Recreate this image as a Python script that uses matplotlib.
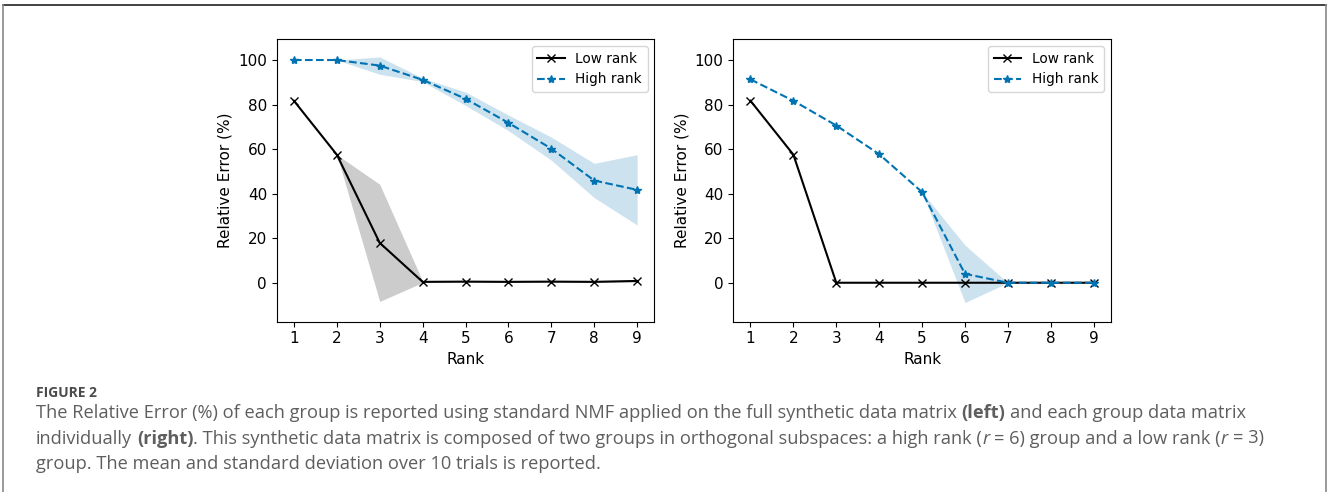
import matplotlib
matplotlib.use("Agg")
import matplotlib.pyplot as plt
from matplotlib.lines import Line2D

ranks = [1, 2, 3, 4, 5, 6, 7, 8, 9]

# NMF on the full synthetic matrix
full_low_mean = [81.7, 57.5, 17.9, 0.4, 0.5, 0.4, 0.5, 0.4, 0.8]
full_low_std = [0.0, 0.0, 26.3, 0.3, 0.3, 0.3, 0.3, 0.3, 0.4]
full_high_mean = [100.0, 100.0, 97.5, 91.1, 82.6, 71.8, 60.2, 45.9, 41.7]
full_high_std = [0.0, 0.0, 3.9, 0.8, 3.0, 3.5, 5.2, 7.7, 15.8]

# NMF on each group matrix separately
group_low_mean = [81.7, 57.5, 0.0, 0.0, 0.0, 0.0, 0.0, 0.0, 0.0]
group_low_std = [0.0, 0.0, 0.0, 0.0, 0.0, 0.0, 0.0, 0.0, 0.0]
group_high_mean = [91.3, 81.7, 70.6, 57.7, 40.7, 4.0, 0.0, 0.0, 0.0]
group_high_std = [0.0, 0.0, 0.0, 0.0, 0.0, 12.9, 0.0, 0.0, 0.0]

BLUE = "#0173B2"
CAPTION_FONT = "Open Sans"
W, H = 1328, 492

fig = plt.figure(figsize=(W / 100, H / 100), dpi=100)
ax_l = fig.add_axes([0.2084, 0.3461, 0.2843, 0.5740])
ax_r = fig.add_axes([0.5522, 0.3461, 0.2843, 0.5740])


def draw_panel(ax, low_m, low_s, high_m, high_s):
    ax.fill_between(ranks, [m - s for m, s in zip(low_m, low_s)],
                    [m + s for m, s in zip(low_m, low_s)],
                    color="black", alpha=0.2, linewidth=0)
    ax.fill_between(ranks, [m - s for m, s in zip(high_m, high_s)],
                    [m + s for m, s in zip(high_m, high_s)],
                    color=BLUE, alpha=0.2, linewidth=0)
    ax.plot(ranks, low_m, color="black", marker="x", markersize=6,
            linewidth=1.5, label="Low rank")
    ax.plot(ranks, high_m, color=BLUE, marker="*", markersize=6,
            linestyle="--", linewidth=1.5, label="High rank")
    ax.set_xticks(ranks)
    ax.set_yticks([0, 20, 40, 60, 80, 100])
    ax.set_xlim(0.6, 9.4)
    ax.set_ylim(-17.5, 109.3)
    ax.tick_params(labelsize=11)
    ax.set_xlabel("Rank", fontsize=11)
    ax.set_ylabel("Relative Error (%)", fontsize=11)
    ax.legend(loc="upper right", fontsize=9.8)


draw_panel(ax_l, full_low_mean, full_low_std, full_high_mean, full_high_std)
draw_panel(ax_r, group_low_mean, group_low_std, group_high_mean, group_high_std)

# caption, assembled from runs of regular / bold / italic text
CAP = "#5e5e5e"
CAP_SIZE = 13.15
X0 = 36
renderer = fig.canvas.get_renderer()

fig.text(X0 / W, 1 - 393 / H, "FIGURE 2", family=CAPTION_FONT,
         weight="bold", fontsize=10, color="#4a4a4a", va="center", ha="left")

caption_lines = [
    [("The Relative Error (%) of each group is reported using standard NMF applied on the full synthetic data matrix ", "normal", "normal"),
     ("(left)", "bold", "normal"),
     (" and each group data matrix", "normal", "normal")],
    [("individually ", "normal", "normal"),
     ("(right)", "bold", "normal"),
     (". This synthetic data matrix is composed of two groups in orthogonal subspaces: a high rank (", "normal", "normal"),
     ("r", "normal", "italic"),
     (" = 6) group and a low rank (", "normal", "normal"),
     ("r", "normal", "italic"),
     (" = 3)", "normal", "normal")],
    [("group. The mean and standard deviation over 10 trials is reported.", "normal", "normal")],
]


def text_width(s, weight, style):
    t = fig.text(0, 0, s, family=CAPTION_FONT, fontsize=CAP_SIZE,
                 weight=weight, style=style)
    w = t.get_window_extent(renderer).width
    t.remove()
    return w


def space_width(weight, style):
    return text_width("n n", weight, style) - text_width("nn", weight, style)


for i, runs in enumerate(caption_lines):
    y = 1 - (418 + 25.5 * i) / H
    x = X0
    for s, weight, style in runs:
        if s.startswith(" "):
            x += space_width(weight, style)
        t = fig.text(x / W, y, s.strip(), family=CAPTION_FONT,
                     fontsize=CAP_SIZE, weight=weight, style=style,
                     color=CAP, va="baseline", ha="left")
        x = t.get_window_extent(renderer).x1
        if s.endswith(" "):
            x += space_width(weight, style)

# frame around the figure
fig.add_artist(Line2D([3 / W, 1326 / W], [1 - 5 / H, 1 - 5 / H],
                      transform=fig.transFigure, color="#222222", linewidth=1.2))
fig.add_artist(Line2D([3 / W, 3 / W], [0, 1 - 5 / H],
                      transform=fig.transFigure, color="#888888", linewidth=1.2))
fig.add_artist(Line2D([1326 / W, 1326 / W], [0, 1 - 5 / H],
                      transform=fig.transFigure, color="#888888", linewidth=1.2))

fig.savefig("out.png", dpi=100)
